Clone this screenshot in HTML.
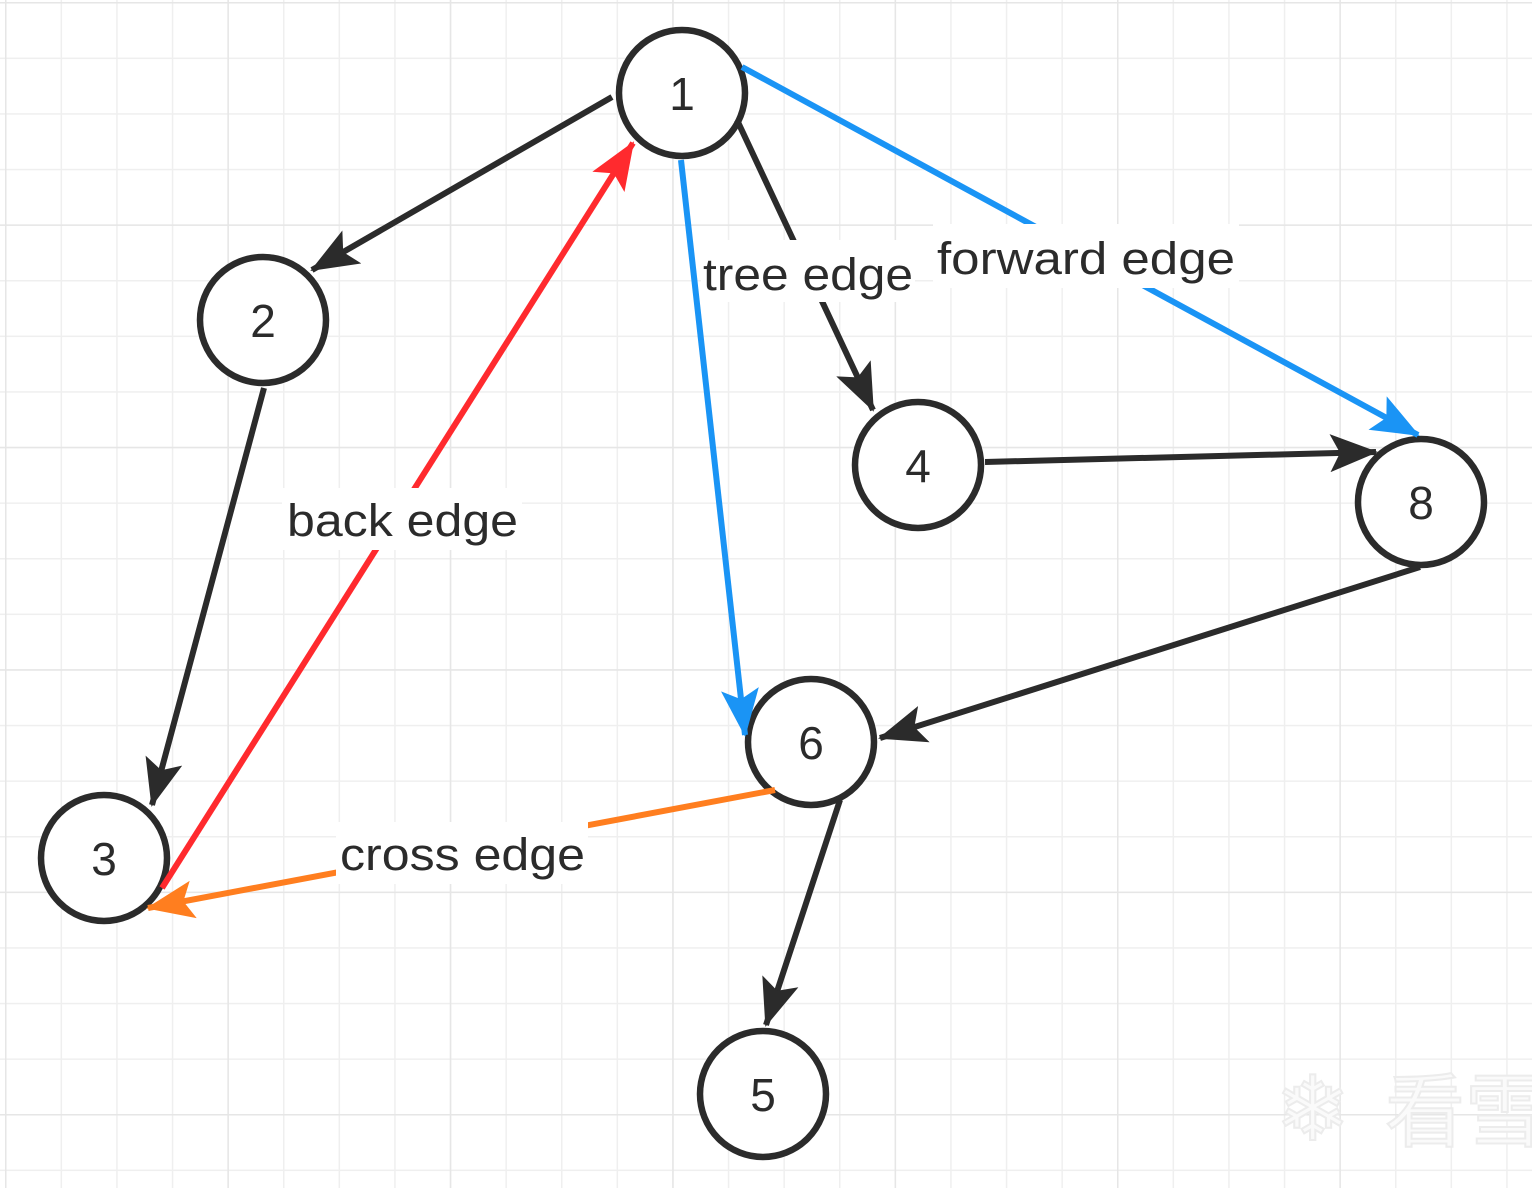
<!DOCTYPE html>
<html><head><meta charset="utf-8"><style>
html,body{margin:0;padding:0;background:#fff;}
svg{display:block}
text{font-family:"Liberation Sans",Arial,sans-serif;}
</style></head><body>
<svg width="1532" height="1188" viewBox="0 0 1532 1188" xmlns="http://www.w3.org/2000/svg">
<defs>
<pattern id="minor" x="5" y="2" width="55.6" height="55.6" patternUnits="userSpaceOnUse">
<path d="M0 0V55.6M0 0H55.6" stroke="#efefef" stroke-width="3" fill="none"/>
</pattern>
<pattern id="major" x="5" y="2" width="222.4" height="222.4" patternUnits="userSpaceOnUse">
<path d="M0 0V222.4M0 0H222.4" stroke="#e6e6e6" stroke-width="3" fill="none"/>
</pattern>
<marker id="ak" viewBox="0 0 48 38" refX="46" refY="19" markerWidth="48" markerHeight="38" markerUnits="userSpaceOnUse" orient="auto"><path d="M0 0L48 19L0 38L10 19Z" fill="#2b2b2b"/></marker>
<marker id="ab" viewBox="0 0 48 38" refX="46" refY="19" markerWidth="48" markerHeight="38" markerUnits="userSpaceOnUse" orient="auto"><path d="M0 0L48 19L0 38L10 19Z" fill="#1a94f5"/></marker>
<marker id="ar" viewBox="0 0 48 38" refX="46" refY="19" markerWidth="48" markerHeight="38" markerUnits="userSpaceOnUse" orient="auto"><path d="M0 0L48 19L0 38L10 19Z" fill="#ff2a2e"/></marker>
<marker id="ao" viewBox="0 0 48 38" refX="46" refY="19" markerWidth="48" markerHeight="38" markerUnits="userSpaceOnUse" orient="auto"><path d="M0 0L48 19L0 38L10 19Z" fill="#ff7e1f"/></marker>
</defs>
<rect width="1532" height="1188" fill="url(#minor)"/>
<rect width="1532" height="1188" fill="url(#major)"/>

<g fill="#fff" stroke="#2b2b2b" stroke-width="6.5">
<circle cx="682" cy="93" r="63"/>
<circle cx="263" cy="320" r="63"/>
<circle cx="104" cy="858" r="63"/>
<circle cx="918" cy="465" r="63"/>
<circle cx="1421" cy="502" r="63"/>
<circle cx="811" cy="742" r="63"/>
<circle cx="763" cy="1094" r="63"/>
</g>

<g stroke-width="6" fill="none">
<line x1="612" y1="97" x2="312" y2="270" stroke="#2b2b2b" marker-end="url(#ak)"/>
<line x1="264" y1="388" x2="152" y2="805" stroke="#2b2b2b" marker-end="url(#ak)"/>
<line x1="737" y1="120" x2="873" y2="410" stroke="#2b2b2b" marker-end="url(#ak)"/>
<line x1="985" y1="462" x2="1376" y2="452" stroke="#2b2b2b" marker-end="url(#ak)"/>
<line x1="1420" y1="567" x2="880" y2="738" stroke="#2b2b2b" marker-end="url(#ak)"/>
<line x1="840" y1="800" x2="766" y2="1025" stroke="#2b2b2b" marker-end="url(#ak)"/>
<line x1="742" y1="67" x2="1418" y2="435" stroke="#1a94f5" marker-end="url(#ab)"/>
<line x1="681" y1="160" x2="745" y2="735" stroke="#1a94f5" marker-end="url(#ab)"/>
<line x1="162" y1="888" x2="633" y2="143" stroke="#ff2a2e" marker-end="url(#ar)"/>
<line x1="775" y1="790" x2="148" y2="908" stroke="#ff7e1f" marker-end="url(#ao)"/>
</g>

<g fill="#fff">
<rect x="701" y="240" width="214" height="62"/>
<rect x="933" y="224" width="306" height="64"/>
<rect x="282" y="488" width="240" height="62"/>
<rect x="336" y="822" width="252" height="62"/>
</g>
<g font-size="45" fill="#2b2b2b">
<text x="703" y="290" textLength="210" lengthAdjust="spacingAndGlyphs">tree edge</text>
<text x="937" y="274" textLength="298" lengthAdjust="spacingAndGlyphs">forward edge</text>
<text x="287" y="536" textLength="231" lengthAdjust="spacingAndGlyphs">back edge</text>
<text x="340" y="870" textLength="245" lengthAdjust="spacingAndGlyphs">cross edge</text>
</g>
<g font-size="46" fill="#2b2b2b" text-anchor="middle">
<text x="682" y="110">1</text>
<text x="263" y="337">2</text>
<text x="104" y="875">3</text>
<text x="918" y="482">4</text>
<text x="1421" y="519">8</text>
<text x="811" y="759">6</text>
<text x="763" y="1111">5</text>
</g>
<text x="1385" y="1140" font-size="80" fill="#fafafa" stroke="#ececec" stroke-width="2" font-family="'Liberation Sans','Noto Sans CJK SC',sans-serif">看雪</text>
<text x="1275" y="1140" font-size="90" fill="#fafafa" stroke="#ececec" stroke-width="2">❄</text>
</svg>
</body></html>
